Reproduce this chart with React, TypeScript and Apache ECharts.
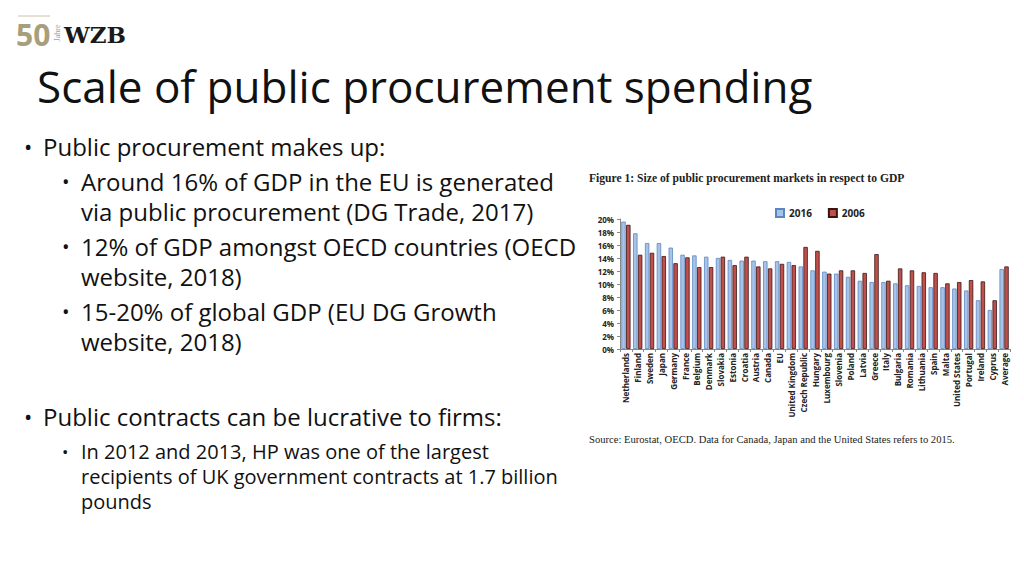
import React, { useEffect, useRef } from "react";
import * as echarts from "echarts";

const categories = [
  "Netherlands", "Finland", "Sweden", "Japan", "Germany", "France", "Belgium", "Denmark",
  "Slovakia", "Estonia", "Croatia", "Austria", "Canada", "EU", "United Kingdom",
  "Czech Republic", "Hungary", "Luxembourg", "Slovenia", "Poland", "Latvia", "Greece",
  "Italy", "Bulgaria", "Romania", "Lithuania", "Spain", "Malta", "United States",
  "Portugal", "Ireland", "Cyprus", "Average",
];
const values2016 = [
  19.6, 17.8, 16.3, 16.3, 15.6, 14.5, 14.4, 14.2, 14.0, 13.7, 13.6, 13.6, 13.5, 13.5, 13.4,
  12.7, 12.1, 11.9, 11.6, 11.1, 10.5, 10.3, 10.3, 10.1, 9.8, 9.7, 9.5, 9.5, 9.3, 9.0, 7.5, 6.0, 12.3,
];
const values2006 = [
  19.1, 14.5, 14.8, 14.3, 13.2, 14.1, 12.6, 12.6, 14.2, 12.9, 14.2, 12.7, 12.4, 13.1, 12.9,
  15.7, 15.1, 11.6, 12.1, 12.1, 11.7, 14.6, 10.5, 12.4, 12.1, 11.8, 11.7, 10.1, 10.3, 10.6, 10.4, 7.5, 12.7,
];

const slideTitle = "Scale of public procurement spending";
const bullets1 = ["Public procurement makes up:"];
const sub1 = [
  "Around 16% of GDP in the EU is generated",
  "via public procurement (DG Trade, 2017)",
  "12% of GDP amongst OECD countries (OECD",
  "website, 2018)",
  "15-20% of global GDP (EU DG Growth",
  "website, 2018)",
];
const sub1Bullets = [true, false, true, false, true, false];
const bullets2 = ["Public contracts can be lucrative to firms:"];
const sub2 = [
  "In 2012 and 2013, HP was one of the largest",
  "recipients of UK government contracts at 1.7 billion",
  "pounds",
];
const figureTitle = "Figure 1: Size of public procurement markets in respect to GDP";
const sourceNote = "Source: Eurostat, OECD. Data for Canada, Japan and the United States refers to 2015.";

const SANS = "'Open Sans', 'Noto Sans', sans-serif";
const SERIF = "'Liberation Serif', 'DejaVu Serif', serif";

export default function App() {
  const ref = useRef<HTMLDivElement>(null);
  useEffect(() => {
    const chart = echarts.init(ref.current!, null, { renderer: "svg" });

    const graphics: any[] = [];
    // Logo
    graphics.push({ type: "line", shape: { x1: 18, y1: 16, x2: 50, y2: 16 }, style: { stroke: "#c9c2ad", lineWidth: 1 } });
    graphics.push({ type: "text", x: 16, y: 34, style: { text: "50", font: `bold 30px ${SANS}`, fill: "#a89e7c", textVerticalAlign: "middle" } });
    graphics.push({ type: "text", x: 57, y: 33, rotation: Math.PI / 2, style: { text: "Jahre", font: `8px ${SERIF}`, fill: "#a89e7c", textAlign: "center", textVerticalAlign: "middle" } });
    graphics.push({ type: "text", x: 64, y: 34, style: { text: "WZB", font: `bold 23px 'DejaVu Serif', serif`, fill: "#1a1a1a", textVerticalAlign: "middle" } });

    // Title
    graphics.push({ type: "text", x: 37, y: 86, style: { text: slideTitle, font: `44px ${SANS}`, fill: "#111", textVerticalAlign: "middle" } });

    // Bullets
    const addBullet = (x: number, y: number, size: number) =>
      graphics.push({ type: "text", x, y, style: { text: "•", font: `${size}px ${SANS}`, fill: "#111", textVerticalAlign: "middle" } });
    addBullet(24, 146, 22);
    graphics.push({ type: "text", x: 43, y: 146, style: { text: bullets1[0], font: `24px ${SANS}`, fill: "#111", textVerticalAlign: "middle" } });
    const subY = [181, 211, 246, 276, 311, 341];
    sub1.forEach((t, i) => {
      if (sub1Bullets[i]) addBullet(62, subY[i], 20);
      graphics.push({ type: "text", x: 81, y: subY[i], style: { text: t, font: `24px ${SANS}`, fill: "#111", textVerticalAlign: "middle" } });
    });
    addBullet(24, 416, 22);
    graphics.push({ type: "text", x: 43, y: 416, style: { text: bullets2[0], font: `24px ${SANS}`, fill: "#111", textVerticalAlign: "middle" } });
    const sub2Y = [451, 476, 501];
    sub2.forEach((t, i) => {
      if (i === 0) addBullet(62, sub2Y[i], 17);
      graphics.push({ type: "text", x: 81, y: sub2Y[i], style: { text: t, font: `20px ${SANS}`, fill: "#111", textVerticalAlign: "middle" } });
    });

    // Figure texts
    graphics.push({ type: "text", x: 589, y: 178, style: { text: figureTitle, font: `bold 11.6px ${SERIF}`, fill: "#222", textVerticalAlign: "middle" } });
    graphics.push({ type: "text", x: 589, y: 439, style: { text: sourceNote, font: `10.6px ${SERIF}`, fill: "#222", textVerticalAlign: "middle" } });

    chart.setOption({
      animation: false,
      backgroundColor: "#ffffff",
      textStyle: { fontFamily: SANS },
      legend: {
        left: 770,
        top: 203,
        itemWidth: 8,
        itemHeight: 8,
        itemGap: 16,
        icon: "rect",
        textStyle: { fontSize: 10, fontWeight: "bold", color: "#222", fontFamily: SANS },
        data: ["2016", "2006"],
      },
      grid: { left: 620, right: 14, top: 219, bottom: 227, containLabel: false },
      xAxis: {
        type: "category",
        data: categories,
        axisLine: { lineStyle: { color: "#888" } },
        axisTick: { show: true, lineStyle: { color: "#888" }, length: 3 },
        axisLabel: {
          interval: 0,
          rotate: 90,
          fontSize: 8,
          fontWeight: "bold",
          color: "#222",
          margin: 4,
        },
      },
      yAxis: {
        type: "value",
        min: 0,
        max: 20,
        interval: 2,
        axisLine: { show: true, lineStyle: { color: "#888" } },
        axisTick: { show: true, lineStyle: { color: "#888" }, length: 3 },
        splitLine: { show: false },
        axisLabel: { formatter: "{value}%", fontSize: 8, fontWeight: "bold", color: "#222", margin: 6 },
      },
      series: [
        {
          name: "2016",
          type: "bar",
          data: values2016,
          barGap: "10%",
          barCategoryGap: "22%",
          itemStyle: { color: "#a9c3e8", borderColor: "#5a86c2", borderWidth: 0.8 },
        },
        {
          name: "2006",
          type: "bar",
          data: values2006,
          itemStyle: { color: "#c0504d", borderColor: "#3b1413", borderWidth: 0.8 },
        },
      ],
      graphic: graphics,
    });
    return () => chart.dispose();
  }, []);
  return <div ref={ref} style={{ position: "absolute", left: 0, top: 0, width: 1024, height: 576 }} />;
}
